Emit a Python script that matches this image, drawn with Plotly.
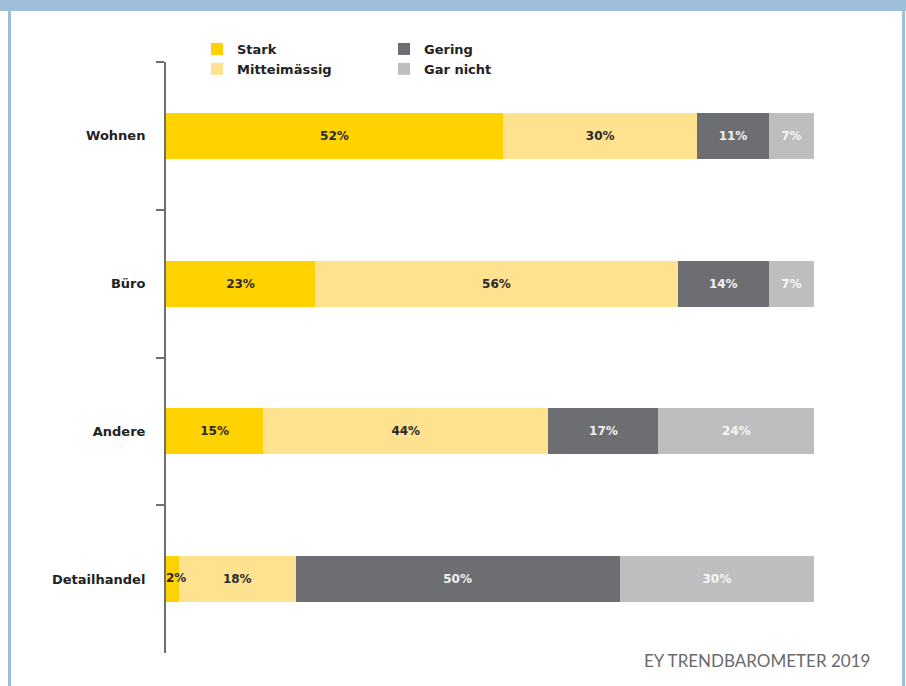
import plotly.graph_objects as go

categories = ["Wohnen", "Büro", "Andere", "Detailhandel"]
series_names = ["Stark", "Mitteimässig", "Gering", "Gar nicht"]
stark = [52, 23, 15, 2]
mittel = [30, 56, 44, 18]
gering = [11, 14, 17, 50]
gar_nicht = [7, 7, 24, 30]
source_text = "EY TRENDBAROMETER 2019"

W, H = 906, 686
L, R, T, B = 166, 92, 62, 33
PW, PH = W - L - R, H - T - B
SMALL = 5  # segments narrower than this get their label drawn on top


def px(x):
    return (x - L) / PW


def py(y):
    return (H - B - y) / PH


colors = ["#FFD200", "#FFE28F", "#6D6E71", "#BDBEC0"]
text_colors = ["#2a2a2a", "#2a2a2a", "#F2F2F2", "#F7F7F7"]
legends = ["legend", "legend", "legend2", "legend2"]
values = [stark, mittel, gering, gar_nicht]
label_font = dict(family="DejaVu Sans", size=12, weight="bold")

fig = go.Figure()
small_x, small_y, small_t, small_c = [], [], [], []
base = [0] * len(categories)
for name, vals, c, tc, lg in zip(series_names, values, colors, text_colors, legends):
    texts = []
    for i, v in enumerate(vals):
        if v < SMALL:
            texts.append("")
            small_x.append(base[i])
            small_y.append(categories[i])
            small_t.append(f"{v}%")
            small_c.append(tc)
        else:
            texts.append(f"{v}%")
    fig.add_trace(go.Bar(
        y=categories, x=vals, name=name, orientation="h",
        marker=dict(color=c, line=dict(width=0)),
        text=texts, textposition="inside", textangle=0,
        insidetextanchor="middle", constraintext="none",
        textfont=dict(color=tc, **label_font),
        legend=lg, hoverinfo="skip",
    ))
    base = [b + v for b, v in zip(base, vals)]

fig.add_trace(go.Scatter(
    x=small_x, y=small_y, text=small_t, mode="text",
    textposition="middle right", showlegend=False, cliponaxis=False,
    textfont=dict(color=small_c, **label_font), hoverinfo="skip",
))

fig.update_layout(
    width=W, height=H,
    margin=dict(l=L, r=R, t=T, b=B),
    barmode="stack", bargap=0.69,
    paper_bgcolor="white", plot_bgcolor="white",
    uniformtext=dict(minsize=12, mode="show"),
    xaxis=dict(range=[0, 100], visible=False, fixedrange=True),
    yaxis=dict(
        type="category", categoryorder="array", categoryarray=categories,
        autorange="reversed", showgrid=False, zeroline=False,
        showline=True, linecolor="#6D6E71", linewidth=2,
        ticks="outside", tickson="boundaries", ticklen=8, tickwidth=2,
        tickcolor="#6D6E71", ticklabelstandoff=16,
        tickfont=dict(family="DejaVu Sans", size=13, color="#222222", weight="bold"),
    ),
    legend=dict(
        x=px(197), y=py(34), xanchor="left", yanchor="top",
        orientation="v", traceorder="normal", bgcolor="rgba(0,0,0,0)",
        font=dict(family="DejaVu Sans", size=13, color="#222222", weight="bold"),
    ),
    legend2=dict(
        x=px(384), y=py(34), xanchor="left", yanchor="top",
        orientation="v", traceorder="normal", bgcolor="rgba(0,0,0,0)",
        font=dict(family="DejaVu Sans", size=13, color="#222222", weight="bold"),
    ),
    showlegend=True,
)

frame_color = "#9DBFDA"
fig.add_shape(type="rect", xref="paper", yref="paper",
              x0=px(-2), x1=px(W + 2), y0=py(11), y1=py(-2),
              fillcolor=frame_color, line=dict(width=0))
fig.add_shape(type="rect", xref="paper", yref="paper",
              x0=px(8), x1=px(11), y0=py(H + 2), y1=py(0),
              fillcolor=frame_color, line=dict(width=0))
fig.add_shape(type="rect", xref="paper", yref="paper",
              x0=px(902), x1=px(905), y0=py(H + 2), y1=py(0),
              fillcolor=frame_color, line=dict(width=0))

fig.add_annotation(
    text=source_text, xref="paper", yref="paper",
    x=px(872), y=py(660), xanchor="right", yanchor="middle",
    showarrow=False,
    font=dict(family="Lato", size=17, color="#6a6a6a"),
)

fig.write_html("out.html")
